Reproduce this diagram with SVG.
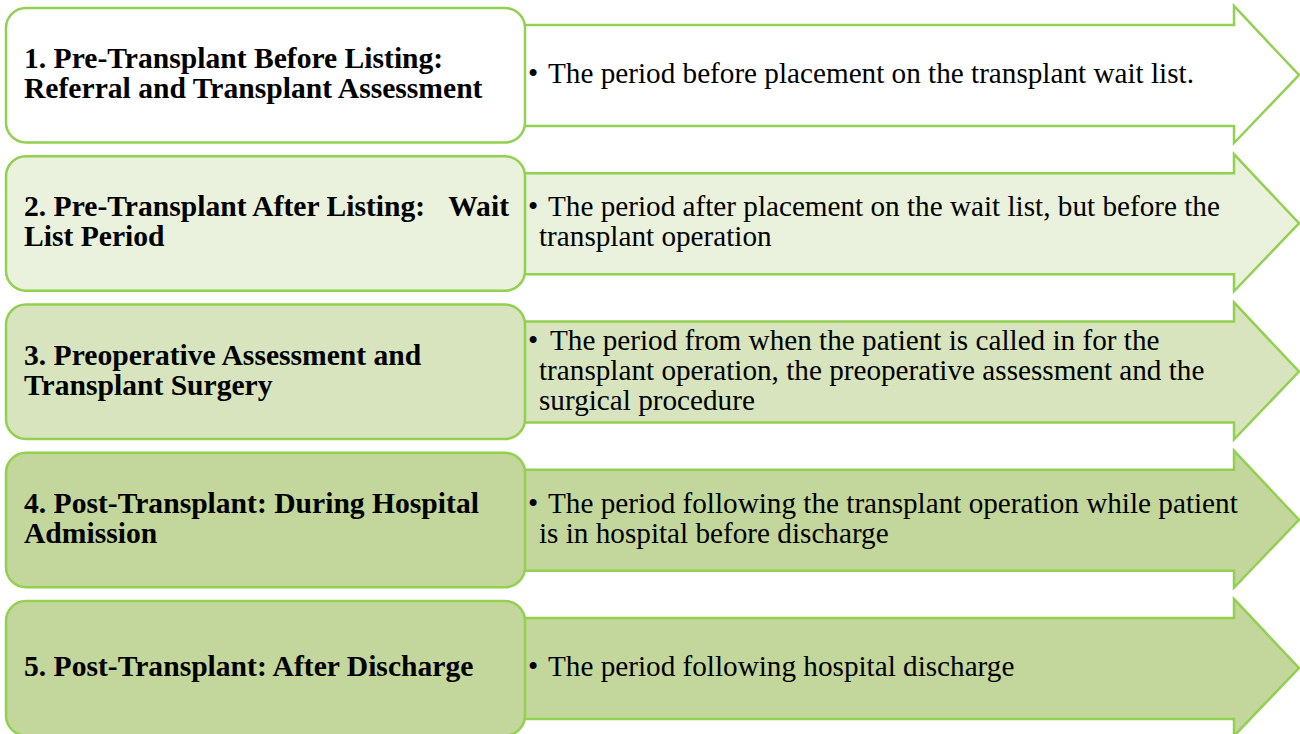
<svg xmlns="http://www.w3.org/2000/svg" width="1300" height="734" viewBox="0 0 1300 734">
<style>
.box{stroke:#92D050;stroke-width:2.5}
.arr{stroke:#92D050;stroke-width:2.5;stroke-linejoin:miter}
.c1{fill:#FFFFFF}.c2{fill:#EAF1DD}.c3{fill:#D7E4BD}.c4{fill:#C3D69B}
.t{font-family:"Liberation Serif","Times New Roman",serif;font-size:29.6px;font-weight:bold;fill:#000}
.d{font-family:"Liberation Serif","Times New Roman",serif;font-size:29.2px;fill:#000}
</style>
<defs>
<path id="arrow" d="M505,17 H1234 V-2 L1299,67 L1234,135 V118 H505 Z"/>
<rect id="box" x="6" y="0" width="519" height="134.5" rx="20" ry="20"/>
</defs>
<rect width="1300" height="734" fill="#FFFFFF"/>
<g id="connectors"/>
<g id="node1" transform="translate(0,8)">
<use href="#arrow" class="arr c1"/>
<use href="#box" class="box c1"/>
<text class="t"><tspan x="24" y="60">1. Pre-Transplant Before Listing:</tspan><tspan x="24" y="90">Referral and Transplant Assessment</tspan></text>
<text class="d"><tspan x="528" y="75">•</tspan><tspan x="548" y="75">The period before placement on the transplant wait list.</tspan></text>
</g>
<g id="node2" transform="translate(0,156.25)">
<use href="#arrow" class="arr c2"/>
<use href="#box" class="box c2"/>
<text class="t"><tspan x="24" y="60">2. Pre-Transplant After Listing:</tspan><tspan x="509" y="60" text-anchor="end">Wait</tspan><tspan x="24" y="90">List Period</tspan></text>
<text class="d"><tspan x="528" y="60">•</tspan><tspan x="548" y="60">The period after placement on the wait list, but before the</tspan><tspan x="539" y="90">transplant operation</tspan></text>
</g>
<g id="node3" transform="translate(0,304.5)">
<use href="#arrow" class="arr c3"/>
<use href="#box" class="box c3"/>
<text class="t"><tspan x="24" y="60">3. Preoperative Assessment and</tspan><tspan x="24" y="90">Transplant Surgery</tspan></text>
<text class="d"><tspan x="528" y="45">•</tspan><tspan x="550" y="45">The period from when the patient is called in for the</tspan><tspan x="539" y="75">transplant operation, the preoperative assessment and the</tspan><tspan x="539" y="105">surgical procedure</tspan></text>
</g>
<g id="node4" transform="translate(0,452.75)">
<use href="#arrow" class="arr c4"/>
<use href="#box" class="box c4"/>
<text class="t"><tspan x="24" y="60">4. Post-Transplant: During Hospital</tspan><tspan x="24" y="90">Admission</tspan></text>
<text class="d"><tspan x="528" y="60">•</tspan><tspan x="548" y="60">The period following the transplant operation while patient</tspan><tspan x="539" y="90">is in hospital before discharge</tspan></text>
</g>
<g id="node5" transform="translate(0,601)">
<use href="#arrow" class="arr c4"/>
<use href="#box" class="box c4"/>
<text class="t"><tspan x="24" y="75">5. Post-Transplant: After Discharge</tspan></text>
<text class="d"><tspan x="528" y="75">•</tspan><tspan x="548" y="75">The period following hospital discharge</tspan></text>
</g>
</svg>
